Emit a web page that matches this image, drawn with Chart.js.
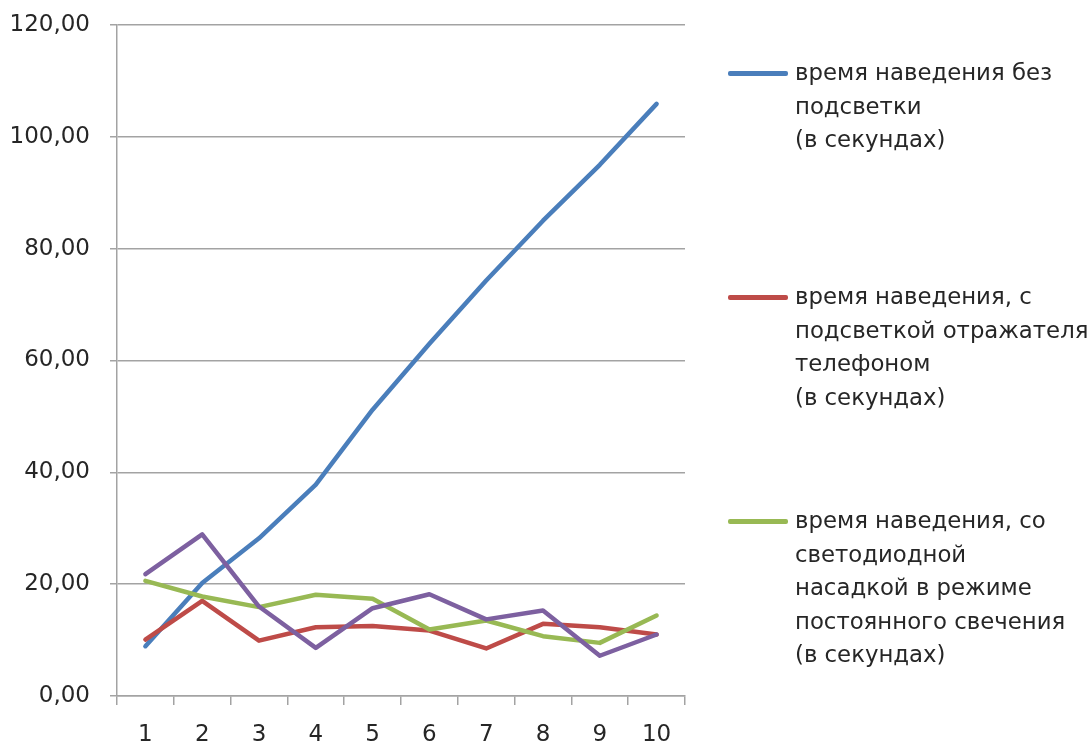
<!DOCTYPE html>
<html lang="ru">
<head>
  <meta charset="UTF-8">
  <title>Время наведения</title>
  <script src="https://cdn.jsdelivr.net/npm/chart.js"></script>
  <style>
    html, body { margin: 0; padding: 0; background: #fff; }
    .wrap { position: relative; width: 1091px; height: 742px; }
    #chart { position: absolute; left: 0; top: 0; }
    #legend { position: absolute; left: 728px; top: 56px; font-family: "DejaVu Sans", sans-serif; font-size: 22.8px; color: #262626; }
    .entry { position: relative; height: 224px; padding-left: 67px; line-height: 33.5px; white-space: pre; }
    .entry .swatch { position: absolute; left: 0; top: 15px; width: 60px; height: 4.5px; border-radius: 2px; }
  </style>
</head>
<body>
  <div class="wrap">
    <canvas id="chart" width="1091" height="742"></canvas>
    <div id="legend"></div>
  </div>

  <script>
    // trial numbers
    const trials = ['1', '2', '3', '4', '5', '6', '7', '8', '9', '10'];

    // seconds per trial
    const noLight = [8.9, 20.2, 28.2, 37.8, 51.2, 63.0, 74.3, 85.0, 95.0, 105.9];
    const phoneLight = [10.1, 17.0, 9.9, 12.3, 12.5, 11.7, 8.5, 12.9, 12.3, 11.0];
    const ledSteady = [20.6, 17.8, 15.9, 18.1, 17.4, 11.9, 13.5, 10.7, 9.5, 14.4];
    const series4 = [21.8, 28.9, 16.0, 8.6, 15.7, 18.2, 13.7, 15.3, 7.2, 11.0];

    const yTicks = [0, 20, 40, 60, 80, 100, 120];

    const labels = [
      'время наведения без\nподсветки\n(в секундах)',
      'время наведения, с\nподсветкой отражателя\nтелефоном\n(в секундах)',
      'время наведения, со\nсветодиодной\nнасадкой в режиме\nпостоянного свечения\n(в секундах)'
    ];

    const colors = ['#4a7ebb', '#be4b48', '#98b954', '#7d60a0'];
    const gridColor = '#a3a3a3';
    const font = { family: 'DejaVu Sans', size: 23 };

    const sets = [noLight, phoneLight, ledSteady, series4].map((data, i) => ({
      label: labels[i] || '',
      data: data,
      borderColor: colors[i],
      backgroundColor: colors[i],
      borderWidth: 4.5,
      pointRadius: 0,
      tension: 0,
      borderCapStyle: 'round',
      borderJoinStyle: 'round',
      order: 4 - i
    }));

    const chart = new Chart(document.getElementById('chart'), {
      type: 'line',
      data: { labels: trials, datasets: sets },
      options: {
        responsive: false,
        animation: false,
        layout: { padding: { left: 10, right: 406, top: 25, bottom: 0 } },
        plugins: { legend: { display: false }, tooltip: { enabled: false } },
        scales: {
          x: {
            offset: true,
            grid: { drawOnChartArea: false, offset: true, color: gridColor, lineWidth: 1.5, tickLength: 9 },
            border: { color: gridColor, width: 1.5 },
            ticks: { color: '#262626', font: font, padding: 16, maxRotation: 0 },
            afterFit: (s) => { s.height = 46; s.paddingLeft = 0; s.paddingRight = 0; }
          },
          y: {
            min: 0,
            max: 120,
            afterBuildTicks: (s) => { s.ticks = yTicks.map(v => ({ value: v })); },
            grid: { color: gridColor, lineWidth: 1.5, tickLength: 7 },
            border: { color: gridColor, width: 1.5 },
            ticks: {
              color: '#262626',
              font: font,
              padding: 20,
              callback: (v) => v.toFixed(2).replace('.', ',')
            },
            afterFit: (s) => { s.width = 107; s.paddingTop = 0; s.paddingBottom = 0; }
          }
        }
      }
    });

    // legend on the right, one block per labelled series
    const legend = document.getElementById('legend');
    chart.data.datasets.filter(d => d.label).forEach(d => {
      const row = document.createElement('div');
      row.className = 'entry';
      const sw = document.createElement('span');
      sw.className = 'swatch';
      sw.style.background = d.borderColor;
      row.appendChild(sw);
      row.appendChild(document.createTextNode(d.label));
      legend.appendChild(row);
    });
  </script>
</body>
</html>
